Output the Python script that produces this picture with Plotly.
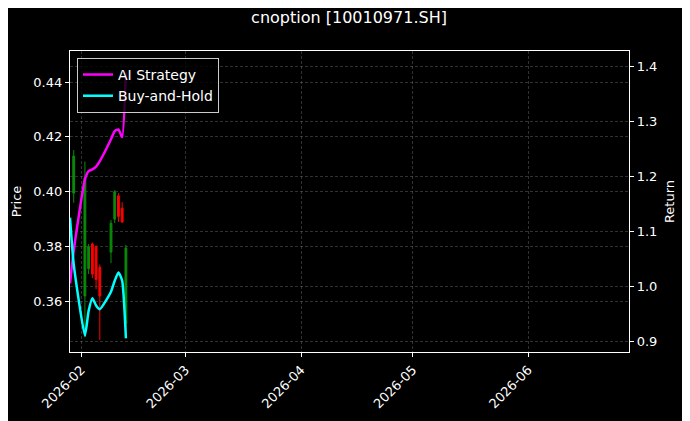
import plotly.graph_objects as go

# trading days shown in the chart
dates = [
    "2026-01-30", "2026-02-02", "2026-02-03", "2026-02-04", "2026-02-05",
    "2026-02-06", "2026-02-09", "2026-02-10", "2026-02-11", "2026-02-12",
    "2026-02-13",
]
opens = [0.3995, 0.3620, 0.3720, 0.3810, 0.3800, 0.3725, 0.3780, 0.3900, 0.3985, 0.3940, 0.3520]
highs = [0.4152, 0.4110, 0.3810, 0.3815, 0.3805, 0.3735, 0.3897, 0.4006, 0.3995, 0.3962, 0.3806]
lows = [0.3960, 0.3470, 0.3700, 0.3685, 0.3645, 0.3460, 0.3740, 0.3886, 0.3890, 0.3886, 0.3465]
closes = [0.4130, 0.4050, 0.3800, 0.3700, 0.3680, 0.3620, 0.3885, 0.4000, 0.3910, 0.3890, 0.3795]

# equity curves (start one day earlier)
curve_dates = ["2026-01-29"] + dates
ai_strategy = [1.005, 1.065, 1.195, 1.210, 1.213, 1.218, 1.228, 1.268, 1.283, 1.286, 1.272, 1.390]
buy_hold = [1.125, 1.040, 0.910, 0.955, 0.978, 0.965, 0.958, 0.990, 1.010, 1.025, 1.010, 0.905]

x_range = ["2026-01-29", "2026-06-28"]
x_ticks = ["2026-02-01", "2026-03-01", "2026-04-01", "2026-05-01", "2026-06-01"]
x_ticklabels = ["2026-02", "2026-03", "2026-04", "2026-05", "2026-06"]

FONT = "DejaVu Sans"
GRID = "rgba(140,140,140,0.35)"

fig = go.Figure()

fig.add_trace(go.Candlestick(
    x=dates, open=opens, high=highs, low=lows, close=closes,
    increasing=dict(line=dict(color="#0a8a0a", width=1), fillcolor="#0a8a0a"),
    decreasing=dict(line=dict(color="#ff0000", width=1), fillcolor="#ff0000"),
    showlegend=False,
    yaxis="y",
))

fig.add_trace(go.Scatter(
    x=curve_dates, y=ai_strategy, name="AI Strategy",
    mode="lines", line=dict(color="#ff00ff", width=2.5, shape="spline", smoothing=0.5),
    yaxis="y2",
))
fig.add_trace(go.Scatter(
    x=curve_dates, y=buy_hold, name="Buy-and-Hold",
    mode="lines", line=dict(color="#00ffff", width=2.5, shape="spline", smoothing=0.5),
    yaxis="y2",
))

axis_common = dict(
    showline=True, linecolor="white", linewidth=1.2,
    ticks="outside", tickcolor="white", ticklen=4,
    tickfont=dict(family=FONT, size=13, color="white"),
    showgrid=True, gridcolor=GRID, gridwidth=0.5, griddash="3px,2px",
    zeroline=False, automargin=False,
)

# the page adds an 8px body margin, so the figure is a bit smaller than the window
fig.update_layout(
    width=682, height=413,
    margin=dict(l=62, r=61, t=43, b=69),
    paper_bgcolor="black", plot_bgcolor="black",
    font=dict(family=FONT, color="white", size=13),
    title=dict(text="cnoption [10010971.SH]", x=0.5, xanchor="center",
               y=0.978, yanchor="middle", font=dict(family=FONT, size=16, color="white")),
    xaxis=dict(
        axis_common, type="date", range=x_range, mirror=True,
        tickvals=x_ticks, ticktext=x_ticklabels, tickangle=-45,
        rangeslider=dict(visible=False),
    ),
    yaxis=dict(
        axis_common, range=[0.3416, 0.4513], mirror=True,
        tickvals=[0.36, 0.38, 0.40, 0.42, 0.44], tickformat=".2f",
        title=dict(text="Price", font=dict(family=FONT, size=13, color="white"), standoff=8),
    ),
    yaxis2=dict(
        axis_common, overlaying="y", side="right", range=[0.88, 1.429],
        tickvals=[0.9, 1.0, 1.1, 1.2, 1.3, 1.4], tickformat=".1f",
        title=dict(text="Return", font=dict(family=FONT, size=13, color="white"), standoff=8),
    ),
    legend=dict(
        x=0.0125, y=0.977, xanchor="left", yanchor="top",
        bgcolor="rgba(0,0,0,0.8)", bordercolor="#cccccc", borderwidth=1,
        font=dict(family=FONT, size=14, color="white"),
        itemwidth=30,
    ),
    showlegend=True,
)

fig.write_html("out.html")
